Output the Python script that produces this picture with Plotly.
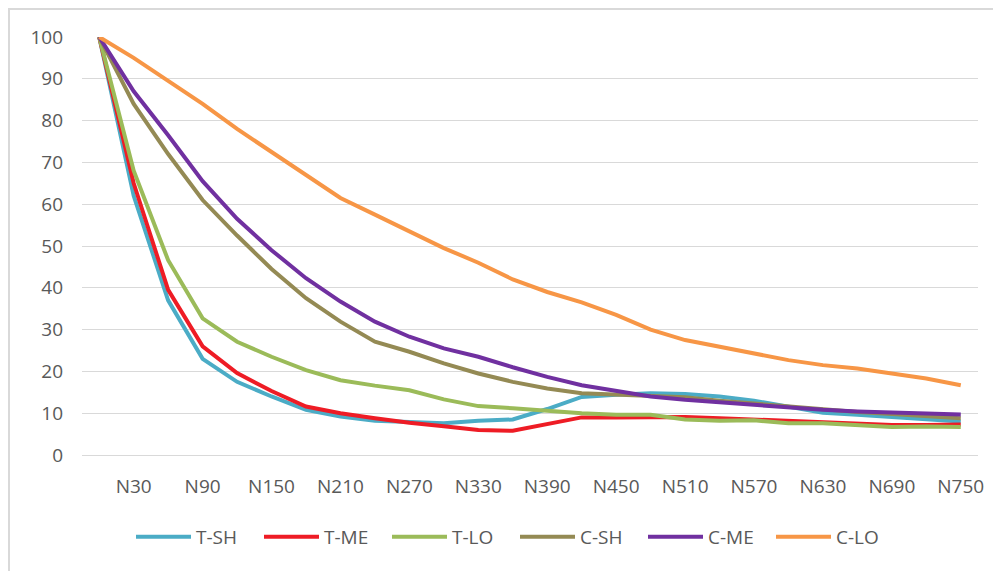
import plotly.graph_objects as go

steps = list(range(0, 780, 30))  # N0 .. N750
tick_vals = list(range(30, 780, 60))
tick_text = ["N%d" % v for v in tick_vals]

t_sh = [100, 62, 37, 23, 17.5, 14, 10.8, 9.2, 8.2, 7.8, 7.6, 8.2, 8.5, 11, 13.9, 14.4, 14.8, 14.6, 14, 13, 11.6, 10.1, 9.6, 9, 8.5, 8]
t_me = [100, 65, 39.5, 26, 19.6, 15.3, 11.6, 10, 8.8, 7.7, 6.9, 6, 5.8, 7.4, 9, 9, 9, 9.1, 8.8, 8.5, 8.2, 7.8, 7.5, 7.2, 7.2, 7.3]
t_lo = [100, 68, 46.6, 32.7, 27.1, 23.5, 20.3, 17.9, 16.6, 15.5, 13.3, 11.7, 11.2, 10.5, 10, 9.6, 9.6, 8.5, 8.2, 8.3, 7.6, 7.6, 7.2, 6.7, 6.8, 6.7]
c_sh = [100, 84, 72, 61, 52.5, 44.5, 37.5, 31.9, 27.1, 24.7, 21.9, 19.5, 17.5, 15.9, 14.8, 14.5, 14.3, 13.8, 13, 12.3, 11.7, 11, 10.3, 9.8, 9.3, 8.8]
c_me = [100, 87, 76.5, 65.5, 56.5, 49, 42.3, 36.7, 31.9, 28.3, 25.5, 23.5, 21, 18.7, 16.7, 15.4, 14, 13.2, 12.6, 12, 11.2, 10.8, 10.4, 10.1, 10, 9.7]
c_lo = [100, 95, 89.5, 84, 78, 72.5, 67, 61.5, 57.5, 53.5, 49.5, 46, 42, 39, 36.5, 33.5, 30, 27.5, 25.9, 24.2, 22.7, 21.5, 20.7, 19.5, 18.3, 16.7]

series = [
    ("T-SH", t_sh, "#4BACC6"),
    ("T-ME", t_me, "#EE1C25"),
    ("T-LO", t_lo, "#9BBB59"),
    ("C-SH", c_sh, "#948A54"),
    ("C-ME", c_me, "#7030A0"),
    ("C-LO", c_lo, "#F79646"),
]

fig = go.Figure()
for name, vals, col in series:
    fig.add_trace(go.Scatter(x=steps, y=vals, name=name, mode="lines",
                             line=dict(color=col, width=4)))

OFF = 8  # page body margin
W, H = 1001 - OFF, 571 - OFF
ml, mt = 82 - OFF, 37 - OFF
mr = W - (978 - OFF)
mb = H - (455 - OFF)
pw, ph = W - ml - mr, H - mt - mb

def px(x):
    return (x - OFF - ml) / pw

def py(y):
    return (H - mb - (y - OFF)) / ph

fig.update_layout(
    width=W, height=H,
    margin=dict(l=ml, r=mr, t=mt, b=mb),
    paper_bgcolor="white", plot_bgcolor="white",
    font=dict(family="Open Sans, sans-serif", size=19, color="#595959"),
    showlegend=True,
    legend=dict(orientation="h", x=px(515), xanchor="center", y=py(537), yanchor="middle",
                font=dict(size=19, color="#595959"), itemwidth=55, traceorder="normal",
                entrywidth=58),
    xaxis=dict(range=[-15, 765], tickvals=tick_vals, ticktext=tick_text,
               showgrid=False, zeroline=False, showline=False, ticks="",
               ticklabelstandoff=18),
    yaxis=dict(range=[0, 100], dtick=10, showgrid=True, gridcolor="#D9D9D9", gridwidth=1,
               zeroline=True, zerolinecolor="#D9D9D9", zerolinewidth=1,
               showline=False, ticks="", ticklabelstandoff=18),
    shapes=[dict(type="rect", xref="paper", yref="paper",
                 x0=px(9), x1=px(1030), y0=py(600), y1=py(9),
                 line=dict(color="#D9D9D9", width=2), layer="below")],
)

fig.write_html("out.html")
